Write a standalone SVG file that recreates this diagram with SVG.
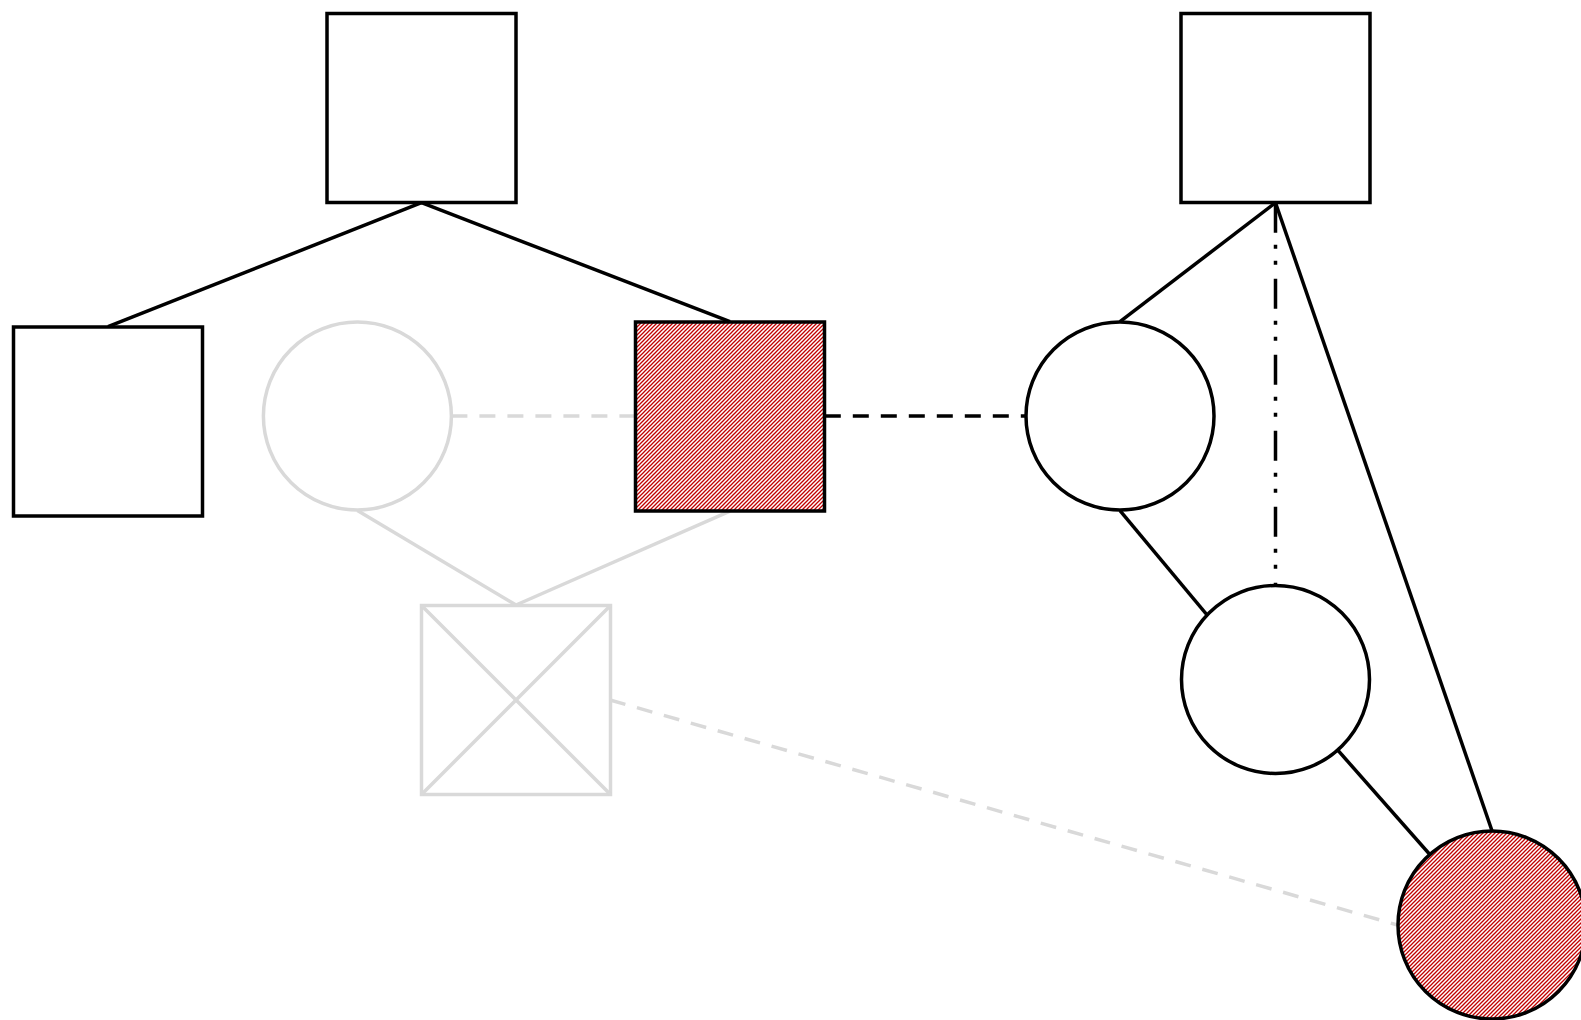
<svg xmlns="http://www.w3.org/2000/svg" width="1581" height="1020" viewBox="0 0 1581 1020">
  <defs>
    <pattern id="hatch" width="4" height="4" patternUnits="userSpaceOnUse">
      <rect width="4" height="4" fill="#ffffff"/>
      <path d="M-1,1 l2,-2 M0,4 l4,-4 M3,5 l2,-2" stroke="#c00000" stroke-width="1.3"/>
    </pattern>
  </defs>
  <style>
    .node { fill: #ffffff; stroke: #000000; stroke-width: 3.5; }
    .ghost { fill: #ffffff; stroke: #d9d9d9; stroke-width: 3.5; }
    .hatched { fill: url(#hatch); stroke: #000000; stroke-width: 3.5; }
    .ln { fill: none; stroke: #000000; stroke-width: 3.5; }
    .gln { fill: none; stroke: #d9d9d9; stroke-width: 3.5; }
    .dash { stroke-dasharray: 16 12; }
    .dashdot { stroke-dasharray: 30 12 4 12 4 14; }
  </style>
  <rect width="1581" height="1020" fill="#ffffff"/>
  <g id="connectors">
    <line class="ln" x1="421.5" y1="202.7" x2="108" y2="326.7"/>
    <line class="ln" x1="421.5" y1="202.7" x2="730" y2="321.6"/>
    <line class="gln" x1="357.4" y1="510.4" x2="516" y2="605"/>
    <line class="gln" x1="730" y1="511.2" x2="516" y2="605"/>
    <line class="gln dash" x1="451.4" y1="416" x2="635" y2="416"/>
    <line class="ln dash" x1="824.8" y1="416" x2="1025.4" y2="416"/>
    <line class="gln dash" x1="610" y1="700" x2="1397.5" y2="925"/>
    <line class="ln" x1="1275.5" y1="202.7" x2="1120" y2="321.6"/>
    <line class="ln dashdot" x1="1275.5" y1="202.7" x2="1275.5" y2="585"/>
    <line class="ln" x1="1275.5" y1="202.7" x2="1492" y2="830.8"/>
    <line class="ln" x1="1120" y1="510.6" x2="1268" y2="688"/>
    <line class="ln" x1="1275.5" y1="679.5" x2="1492" y2="925"/>
  </g>
  <g id="node-top-left"><rect class="node" x="327" y="13.5" width="189" height="189"/></g>
  <g id="node-top-right"><rect class="node" x="1181" y="13.5" width="189" height="189"/></g>
  <g id="node-left"><rect class="node" x="13.5" y="327" width="189" height="189"/></g>
  <g id="node-ghost-circle"><circle class="ghost" cx="357.4" cy="416" r="94"/></g>
  <g id="node-hatched-square"><rect class="hatched" x="635.5" y="322" width="189" height="189"/></g>
  <g id="node-circle-1"><circle class="node" cx="1120" cy="416" r="94"/></g>
  <g id="node-ghost-cross">
    <rect class="ghost" x="421.5" y="605.5" width="189" height="189"/>
    <line class="gln" x1="421.5" y1="605.5" x2="610.5" y2="794.5"/>
    <line class="gln" x1="610.5" y1="605.5" x2="421.5" y2="794.5"/>
  </g>
  <g id="node-circle-2"><circle class="node" cx="1275.5" cy="679.5" r="94"/></g>
  <g id="node-hatched-circle"><circle class="hatched" cx="1492" cy="925" r="94"/></g>
</svg>
